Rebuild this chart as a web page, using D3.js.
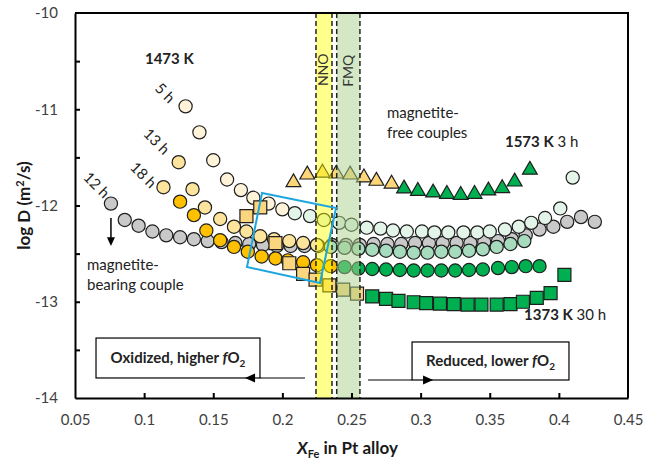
<!DOCTYPE html>
<html><head><meta charset="utf-8">
<script src="https://cdn.jsdelivr.net/npm/d3@7"></script>
<style>
body{margin:0;background:#fff}
svg{display:block}
text{font-family:Lato,"Open Sans",sans-serif}
</style>
</head><body>
<svg id="c" width="646" height="465"></svg>
<script>
// ---------- data ----------
const xTickValues = [0.05,0.1,0.15,0.2,0.25,0.3,0.35,0.4,0.45];
const yTickValues = [-14,-13.5,-13,-12.5,-12,-11.5,-11,-10.5,-10];

// 1473 K, 5 h
const x5h = [0.130,0.140,0.150,0.160,0.170,0.179,0.190,0.200,0.209,0.220,0.230,0.241,0.250,0.261,0.271,0.280,0.290,0.301,0.310,0.320,0.331,0.341,0.350,0.361,0.371,0.380,0.390,0.401,0.410];
const y5h = [-10.97,-11.24,-11.53,-11.73,-11.84,-11.92,-11.98,-12.04,-12.08,-12.11,-12.15,-12.18,-12.20,-12.23,-12.24,-12.26,-12.27,-12.27,-12.28,-12.28,-12.28,-12.28,-12.27,-12.25,-12.22,-12.18,-12.13,-12.03,-11.71];
// 1473 K, 13 h
const x13h = [0.125,0.135,0.144,0.155,0.165,0.174,0.184,0.194,0.205,0.215,0.225,0.235,0.245,0.255,0.265,0.275,0.285,0.295,0.305,0.315,0.325,0.335,0.345,0.355,0.365,0.375];
const y13h = [-11.55,-11.83,-12.02,-12.14,-12.22,-12.27,-12.32,-12.35,-12.37,-12.39,-12.41,-12.43,-12.44,-12.45,-12.46,-12.47,-12.48,-12.49,-12.49,-12.48,-12.48,-12.47,-12.455,-12.43,-12.40,-12.37];
// 1473 K, 18 h
const x18h = [0.114,0.126,0.136,0.145,0.155,0.165,0.175,0.185,0.195,0.204,0.215,0.225,0.235,0.245,0.255,0.265,0.275,0.285,0.295,0.305,0.315,0.325,0.335,0.345,0.356,0.366,0.376,0.386];
const y18h = [-11.81,-11.96,-12.10,-12.26,-12.36,-12.43,-12.48,-12.53,-12.55,-12.57,-12.59,-12.62,-12.63,-12.64,-12.655,-12.66,-12.665,-12.67,-12.675,-12.675,-12.675,-12.675,-12.67,-12.665,-12.65,-12.64,-12.63,-12.63];
// 1473 K, 12 h (magnetite-bearing couple)
const x12h = [0.076,0.086,0.096,0.106,0.116,0.126,0.136,0.146,0.156,0.166,0.176,0.186,0.196,0.206,0.216,0.226,0.236,0.246,0.256,0.266,0.276,0.286,0.296,0.306,0.316,0.326,0.336,0.346,0.356,0.366,0.376,0.386,0.396,0.406,0.416,0.426];
const y12h = [-11.98,-12.15,-12.21,-12.27,-12.31,-12.33,-12.35,-12.37,-12.38,-12.39,-12.40,-12.41,-12.42,-12.42,-12.42,-12.42,-12.41,-12.41,-12.41,-12.40,-12.40,-12.40,-12.39,-12.39,-12.39,-12.39,-12.39,-12.38,-12.37,-12.35,-12.31,-12.25,-12.22,-12.17,-12.12,-12.17];
// 1573 K, 3 h (triangles)
const x1573 = [0.208,0.218,0.229,0.239,0.249,0.259,0.268,0.279,0.288,0.298,0.309,0.319,0.329,0.339,0.349,0.359,0.368,0.379];
const y1573 = [-11.76,-11.68,-11.66,-11.67,-11.68,-11.71,-11.745,-11.775,-11.825,-11.85,-11.867,-11.881,-11.891,-11.881,-11.846,-11.821,-11.753,-11.63];
// 1373 K, 30 h (squares)
const x1373 = [0.174,0.184,0.195,0.205,0.215,0.224,0.234,0.244,0.254,0.265,0.275,0.284,0.295,0.304,0.314,0.324,0.334,0.344,0.355,0.365,0.374,0.384,0.394,0.404];
const y1373 = [-12.11,-12.02,-12.39,-12.60,-12.71,-12.77,-12.83,-12.875,-12.915,-12.945,-12.97,-12.99,-13.005,-13.015,-13.02,-13.025,-13.03,-13.03,-13.03,-13.025,-13.0,-12.96,-12.91,-12.72];

// buffer bands
const bandNames = ["NNO","FMQ"];
const bandStart = [0.2243,0.2393];
const bandEnd   = [0.2359,0.2561];

// highlighted region (rotated square) corners
const boxX = [0.1853,0.2388,0.2272,0.1744];
const boxY = [-11.870,-12.026,-12.805,-12.639];

// ---------- styles ----------
const seriesList = [
  {xs:x12h, ys:y12h, shape:"circle", left:"#c9c9c9", right:"#c9c9c9", split:1},
  {xs:x5h,  ys:y5h,  shape:"circle", left:"#fff4d9", right:"#e3f4e8", split:0.205},
  {xs:x13h, ys:y13h, shape:"circle", left:"#fde49c", right:"#a6dcbd", split:0.23},
  {xs:x18h, ys:y18h, shape:"circle", left:"#ffc000", right:"#00b050", split:0.24, first:"#fde49c"},
  {xs:x1573,ys:y1573,shape:"triangle", left:"#fdd67a", right:"#00b050", split:0.284},
  {xs:x1373,ys:y1373,shape:"square", left:"#fcd57f", right:"#00b050", split:0.26}
];

const svg = d3.select("#c");
const x = d3.scaleLinear().domain([0.05,0.45]).range([75,628]);
const y = d3.scaleLinear().domain([-14,-10]).range([398,13]);

// ---------- markers ----------
const gM = svg.append("g");
seriesList.forEach(s=>{
  const pts = s.xs.map((v,i)=>({x:v,y:s.ys[i],i}));
  const fill = d => (d.i===0 && s.first) ? s.first : (d.x < s.split ? s.left : s.right);
  const sym = s.shape==="circle" ? d3.symbolCircle : s.shape==="square" ? d3.symbolSquare : d3.symbolTriangle;
  const size = s.shape==="circle" ? Math.PI*6.6*6.6 : s.shape==="square" ? 13*13 : 95;
  gM.selectAll(null).data(pts).join("path")
    .attr("d", d3.symbol().type(sym).size(size))
    .attr("transform", d=>`translate(${x(d.x)},${y(d.y)})`)
    .attr("fill", fill)
    .attr("stroke","#1e1e1e").attr("stroke-width",1.2);
});

// ---------- bands (overlay) ----------
const bandFill = ["#ffff00","#a9d18e"];
const bandOp = [0.45,0.5];
bandNames.forEach((n,i)=>{
  svg.append("rect")
    .attr("x",x(bandStart[i])).attr("y",y(-10))
    .attr("width",x(bandEnd[i])-x(bandStart[i])).attr("height",y(-14)-y(-10))
    .attr("fill",bandFill[i]).attr("opacity",bandOp[i]);
  [bandStart[i],bandEnd[i]].forEach(v=>{
    svg.append("line").attr("x1",x(v)).attr("x2",x(v)).attr("y1",y(-10)).attr("y2",y(-14))
      .attr("stroke","#222").attr("stroke-width",1.5).attr("stroke-dasharray","5,3");
  });
});
const bandLabelY = [-10.59,-10.6];
bandNames.forEach((n,i)=>{
  const cx = (x(bandStart[i])+x(bandEnd[i]))/2;
  svg.append("text").attr("transform",`translate(${cx+4.5},${y(bandLabelY[i])}) rotate(-90)`)
    .attr("text-anchor","middle").attr("font-size",14).attr("fill","#333").text(n);
});

// ---------- blue box ----------
svg.append("path")
  .attr("d", d3.line().curve(d3.curveLinearClosed)(boxX.map((v,i)=>[x(v),y(boxY[i])])))
  .attr("fill","none").attr("stroke","#1ea6df").attr("stroke-width",2);

// ---------- axes ----------
const yAxis = d3.axisLeft(y).tickValues(yTickValues).tickSizeInner(-5).tickSizeOuter(0).tickPadding(17)
  .tickFormat(v => Number.isInteger(v) ? String(v) : "");
const gy = svg.append("g").attr("transform","translate(75,0)").call(yAxis);
const xAxis = d3.axisBottom(x).tickValues(xTickValues).tickSizeInner(-5).tickSizeOuter(0).tickPadding(16)
  .tickFormat(v => String(+v.toFixed(2)));
const gx = svg.append("g").attr("transform","translate(0,398)").call(xAxis);
[gx,gy].forEach(g=>{
  g.select(".domain").attr("stroke","#000").attr("stroke-width",2);
  g.selectAll(".tick line").attr("stroke","#000").attr("stroke-width",2);
  g.selectAll(".tick text").attr("font-size",15).attr("fill","#404040").attr("font-family","Lato");
});
gx.selectAll(".tick").filter(d=>d===0.05||d===0.45).select("line").remove();
gy.selectAll(".tick").filter(d=>d===-10||d===-14).select("line").remove();
// frame top/right
svg.append("path").attr("d",`M${x(0.05)},${y(-10)}H${x(0.45)}V${y(-14)}`)
  .attr("fill","none").attr("stroke","#000").attr("stroke-width",2);

// axis titles
const yt = svg.append("text").attr("transform",`translate(30,${(y(-10)+y(-14))/2}) rotate(-90)`)
  .attr("text-anchor","middle").attr("font-size",17).attr("font-weight","bold").attr("fill","#1a1a1a");
yt.append("tspan").text("log D (m");
yt.append("tspan").attr("font-size",11).attr("dy",-6).text("2");
yt.append("tspan").attr("dy",6).text("/s)");
const xt = svg.append("text").attr("x",(x(0.05)+x(0.45))/2-4).attr("y",454)
  .attr("text-anchor","middle").attr("font-size",17).attr("font-weight","bold").attr("fill","#1a1a1a");
xt.append("tspan").attr("font-style","italic").text("X");
xt.append("tspan").attr("font-size",11).attr("dy",4).text("Fe");
xt.append("tspan").attr("dy",-4).text(" in Pt alloy");

// ---------- annotations ----------
function txt(px,py,str,opt={}){
  return svg.append("text").attr("x",px).attr("y",py).attr("font-size",opt.size||15)
    .attr("font-weight",opt.bold?"bold":"normal").attr("fill",opt.fill||"#222")
    .attr("text-anchor",opt.anchor||"start").text(str);
}
txt(x(0.1006),y(-10.53),"1473 K",{bold:true,size:15});
const rot = [["5 h",0.1151,-10.831],["13 h",0.1090,-11.335],["18 h",0.0995,-11.683],["12 h",0.0656,-11.787]];
rot.forEach(r=>{
  svg.append("text").attr("transform",`translate(${x(r[1])},${y(r[2])}) rotate(45)`)
    .attr("text-anchor","middle").attr("dy","0.35em").attr("font-size",15).attr("fill","#222").text(r[0]);
});
txt(x(0.0587),y(-12.67),"magnetite-");
txt(x(0.0587),y(-12.88),"bearing couple");
txt(x(0.2757),y(-11.09),"magnetite-");
txt(x(0.2757),y(-11.30),"free couples");
const t1573 = txt(x(0.361),y(-11.39),"",{size:15});
t1573.append("tspan").attr("font-weight","bold").text("1573 K");
t1573.append("tspan").text(" 3 h");
const t1373 = txt(x(0.3748),y(-13.19),"",{size:15});
t1373.append("tspan").attr("font-weight","bold").text("1373 K");
t1373.append("tspan").text(" 30 h");

// down arrow
svg.append("line").attr("x1",x(0.076)).attr("x2",x(0.076)).attr("y1",y(-12.13)).attr("y2",y(-12.36))
  .attr("stroke","#000").attr("stroke-width",1.5);
svg.append("path").attr("d",`M${x(0.076)-4},${y(-12.33)}L${x(0.076)+4},${y(-12.33)}L${x(0.076)},${y(-12.42)}Z`).attr("fill","#000");

// fO2 boxes
function fo2Box(x0,x1,yTop,yBot,label,arrowFrom,arrowTip,dir){
  svg.append("rect").attr("x",x(x0)).attr("y",y(yTop)).attr("width",x(x1)-x(x0)).attr("height",y(yBot)-y(yTop))
    .attr("fill","#fff").attr("stroke","#000").attr("stroke-width",1.2);
  const t = svg.append("text").attr("x",(x(x0)+x(x1))/2).attr("y",(y(yTop)+y(yBot))/2+5)
    .attr("text-anchor","middle").attr("font-size",15).attr("font-weight","bold").attr("fill","#222");
  t.append("tspan").text(label);
  t.append("tspan").attr("font-style","italic").text("f");
  t.append("tspan").text("O");
  t.append("tspan").attr("font-size",10).attr("dy",4).text("2");
  const yy = y(yBot);
  svg.append("line").attr("x1",x(arrowFrom)).attr("x2",dir<0?x(x1):x(x0)).attr("y1",yy).attr("y2",yy)
    .attr("stroke","#000").attr("stroke-width",1.2);
  const tx = x(arrowTip);
  svg.append("path").attr("d",`M${tx},${yy}L${tx-dir*10},${yy-4.5}L${tx-dir*10},${yy+4.5}Z`).attr("fill","#000");
}
fo2Box(0.0652,0.1838,-13.377,-13.792,"Oxidized, higher ",0.2164,0.173,-1);
fo2Box(0.2938,0.4073,-13.418,-13.813,"Reduced, lower ",0.2619,0.309,1);
</script>
</body></html>
